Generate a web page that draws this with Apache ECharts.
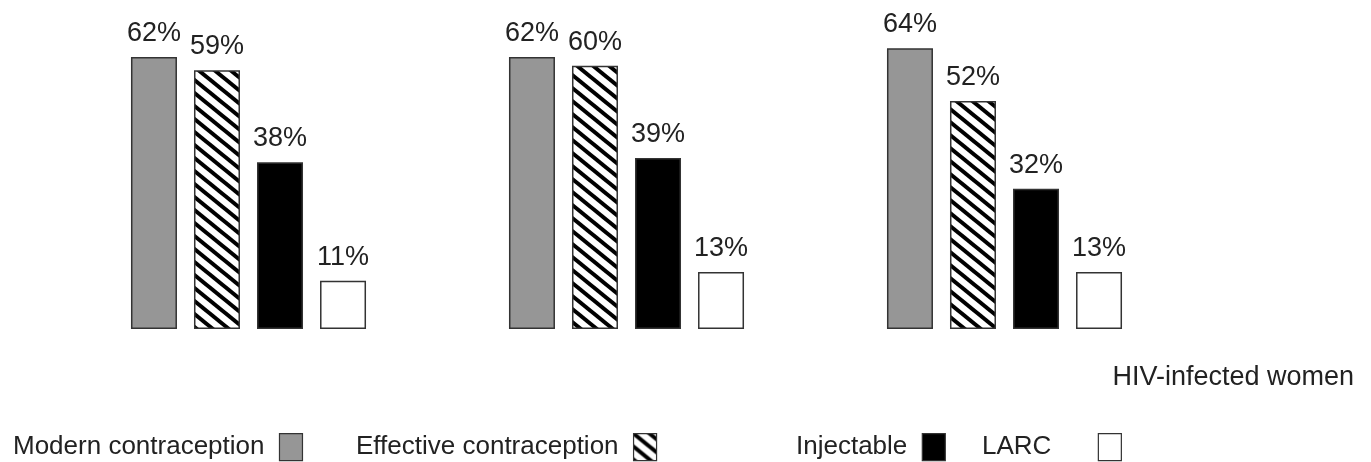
<!DOCTYPE html>
<html>
<head>
<meta charset="utf-8">
<script src="https://cdn.jsdelivr.net/npm/echarts@6/dist/echarts.min.js"></script>
<style>
html,body{margin:0;padding:0;background:#fff;}
#chart{width:1371px;height:462px;}
</style>
</head>
<body>
<div id="chart"></div>
<script>
const categories = ['Group 1', 'Group 2', 'Group 3'];
const seriesNames = ['Modern contraception', 'Effective contraception', 'Injectable', 'LARC'];
const modernValues = [62, 62, 64];
const effectiveValues = [59, 60, 52];
const injectableValues = [38, 39, 32];
const larcValues = [11, 13, 13];
const subtitleText = 'HIV-infected women';

const FONT = '"Liberation Sans", Arial, sans-serif';

function makeHatch() {
  const w = 16, h = 13;
  const c = document.createElement('canvas');
  c.width = w; c.height = h;
  const ctx = c.getContext('2d');
  ctx.fillStyle = '#fff';
  ctx.fillRect(0, 0, w, h);
  ctx.strokeStyle = '#000';
  ctx.lineWidth = 4;
  for (const x0 of [-w, 0, w]) {
    ctx.beginPath();
    ctx.moveTo(x0 - w, -h);
    ctx.lineTo(x0 + 2 * w, 2 * h);
    ctx.stroke();
  }
  return c;
}

const fills = [
  '#969696',
  { image: makeHatch(), repeat: 'repeat' },
  '#000000',
  '#ffffff'
];
const valueSets = [modernValues, effectiveValues, injectableValues, larcValues];

const chart = echarts.init(document.getElementById('chart'), null, { renderer: 'canvas' });

const series = seriesNames.map((name, i) => ({
  name: name,
  type: 'bar',
  data: valueSets[i],
  barWidth: 46,
  barGap: '37%',
  itemStyle: { color: fills[i], borderColor: '#333', borderWidth: 1.5 },
  label: {
    show: true,
    position: 'top',
    distance: 10,
    formatter: '{c}%',
    color: '#222',
    fontFamily: FONT,
    fontSize: 27
  },
  emphasis: { disabled: true }
}));

const legendLefts = [8, 351, 791, 977];
const legendPads = [10, 10, 10, 42];
const legends = seriesNames.map((name, i) => ({
  data: [name],
  left: legendLefts[i],
  top: 428,
  align: 'right',
  orient: 'horizontal',
  itemWidth: 23,
  itemHeight: 27,
  icon: 'rect',
  selectedMode: false,
  itemStyle: { borderColor: '#333', borderWidth: 1.2 },
  textStyle: { fontFamily: FONT, fontSize: 26, color: '#222', padding: [0, legendPads[i], 0, 0] }
}));

chart.setOption({
  animation: false,
  backgroundColor: '#fff',
  title: {
    text: subtitleText,
    right: 12,
    top: 359,
    textStyle: { fontFamily: FONT, fontSize: 27, fontWeight: 'normal', color: '#222' }
  },
  legend: legends,
  grid: { left: 59.5, right: 177.5, top: 0, bottom: 133, containLabel: false },
  xAxis: {
    type: 'category',
    data: categories,
    show: false
  },
  yAxis: {
    type: 'value',
    min: 0,
    max: 75,
    show: false
  },
  series: series
});
</script>
</body>
</html>
